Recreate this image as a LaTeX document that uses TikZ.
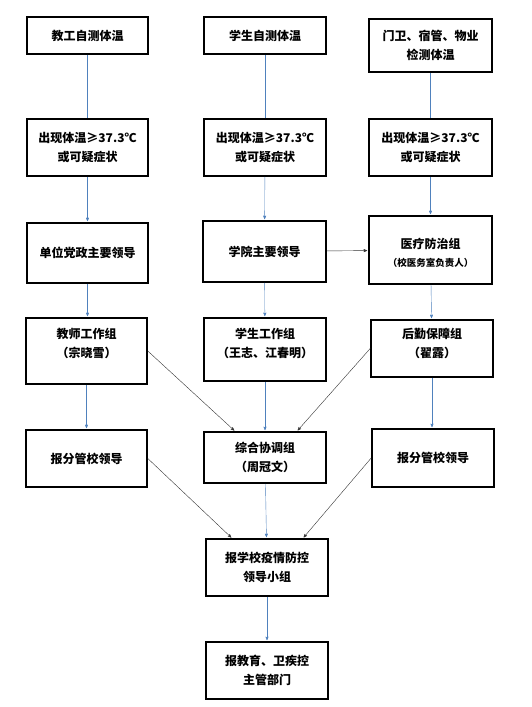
\documentclass[tikz,border=0pt]{standalone}
\usepackage{fontspec}
\setmainfont{Noto Sans CJK SC}
\usetikzlibrary{arrows}
\definecolor{lineblue}{RGB}{79,129,189}

\begin{document}
\begin{tikzpicture}[x=1pt, y=-1pt, >=stealth', semithick, font=\bfseries\fontsize{12}{19}\selectfont]
 % Define block styles
	\tikzstyle{block} = [rectangle, draw, line width=1.6pt, align=center, inner sep=2pt]
	\tikzstyle{blueline} = [draw=lineblue, thin]
	\tikzstyle{bluearrow} = [blueline, ->, shorten >=1pt]
	\tikzstyle{darkarrow} = [draw=black!80, thin, ->, shorten >=1pt]
	\useasboundingbox (0,0) rectangle (532,707);
%%====Nodi e posizione============================================================
	\node [block, minimum width=121, minimum height=37] (selfT)  at (87.5,35.5)  {教工自测体温};
	\node [block, minimum width=122, minimum height=37] (selfS)  at (265,35.5)   {学生自测体温};
	\node [block, minimum width=123, minimum height=53] (selfG)  at (430.5,45.5) {门卫、宿管、物业\\检测体温};
	\node [block, minimum width=121, minimum height=57] (feverT) at (87.5,147.5) {出现体温≥37.3℃\\或可疑症状};
	\node [block, minimum width=122, minimum height=57] (feverS) at (265,147.5)  {出现体温≥37.3℃\\或可疑症状};
	\node [block, minimum width=123, minimum height=57] (feverG) at (430.5,147.5) {出现体温≥37.3℃\\或可疑症状};
	\node [block, minimum width=121, minimum height=60] (unit)   at (87.5,253)   {单位党政主要领导};
	\node [block, minimum width=123, minimum height=61] (college) at (264.5,251.5) {学院主要领导};
	\node [block, minimum width=123, minimum height=68] (medic)  at (430.5,250)  {\mbox{}\\[-4pt]医疗防治组\\[-1pt]{\fontsize{9.5}{12}\selectfont（校医务室负责人）}};
	\node [block, minimum width=121, minimum height=66] (teachG) at (86.5,351)  {教师工作组\\（宗晓雪）\\[-3pt]\mbox{}};
	\node [block, minimum width=122, minimum height=63] (studG)  at (265,349.5)  {学生工作组\\（王志、江春明）\\[-6pt]\mbox{}};
	\node [block, minimum width=122, minimum height=57] (logiG)  at (432,348.5)  {后勤保障组\\（翟露）\\[-8pt]\mbox{}};
	\node [block, minimum width=121, minimum height=57] (reportL) at (86.5,458.5) {报分管校领导};
	\node [block, minimum width=122, minimum height=51] (coord)  at (265,457.5)  {综合协调组\\（周冠文）};
	\node [block, minimum width=122, minimum height=58] (reportR) at (433,458)   {报分管校领导};
	\node [block, minimum width=122, minimum height=57] (lead)   at (267,567.5)  {报学校疫情防控\\领导小组};
	\node [block, minimum width=122, minimum height=57] (edu)    at (267,670.5)  {报教育、卫疾控\\主管部门};
%%====Collegamenti================================================================
	\path [blueline] (selfT) -- (feverT);
	\path [blueline] (selfS) -- (feverS);
	\path [blueline] (selfG) -- (feverG);
	\path [bluearrow] (feverT) -- (unit);
	\path [bluearrow] (feverS) -- (college);
	\path [bluearrow] (feverG) -- (medic);
	\path [darkarrow] (college) -- (medic);
	\path [bluearrow] (unit) -- (unit |- teachG.north);
	\path [bluearrow] (college) -- (studG);
	\path [bluearrow] (medic) -- (logiG);
	\path [bluearrow] (teachG) -- (teachG |- reportL.north);
	\path [bluearrow] (studG) -- (coord);
	\path [bluearrow] (logiG) -- (logiG |- reportR.north);
	\path [darkarrow] (teachG.east) -- ([xshift=-30]coord.north);
	\path [darkarrow] (logiG.west) -- ([xshift=32]coord.north);
	\path [darkarrow] (reportL.east) -- ([xshift=-35]lead.north);
	\path [darkarrow] (reportR.west) -- ([xshift=36]lead.north);
	\path [bluearrow] (coord) -- (lead);
	\path [bluearrow] (lead) -- (edu);
\end{tikzpicture}
\end{document}
